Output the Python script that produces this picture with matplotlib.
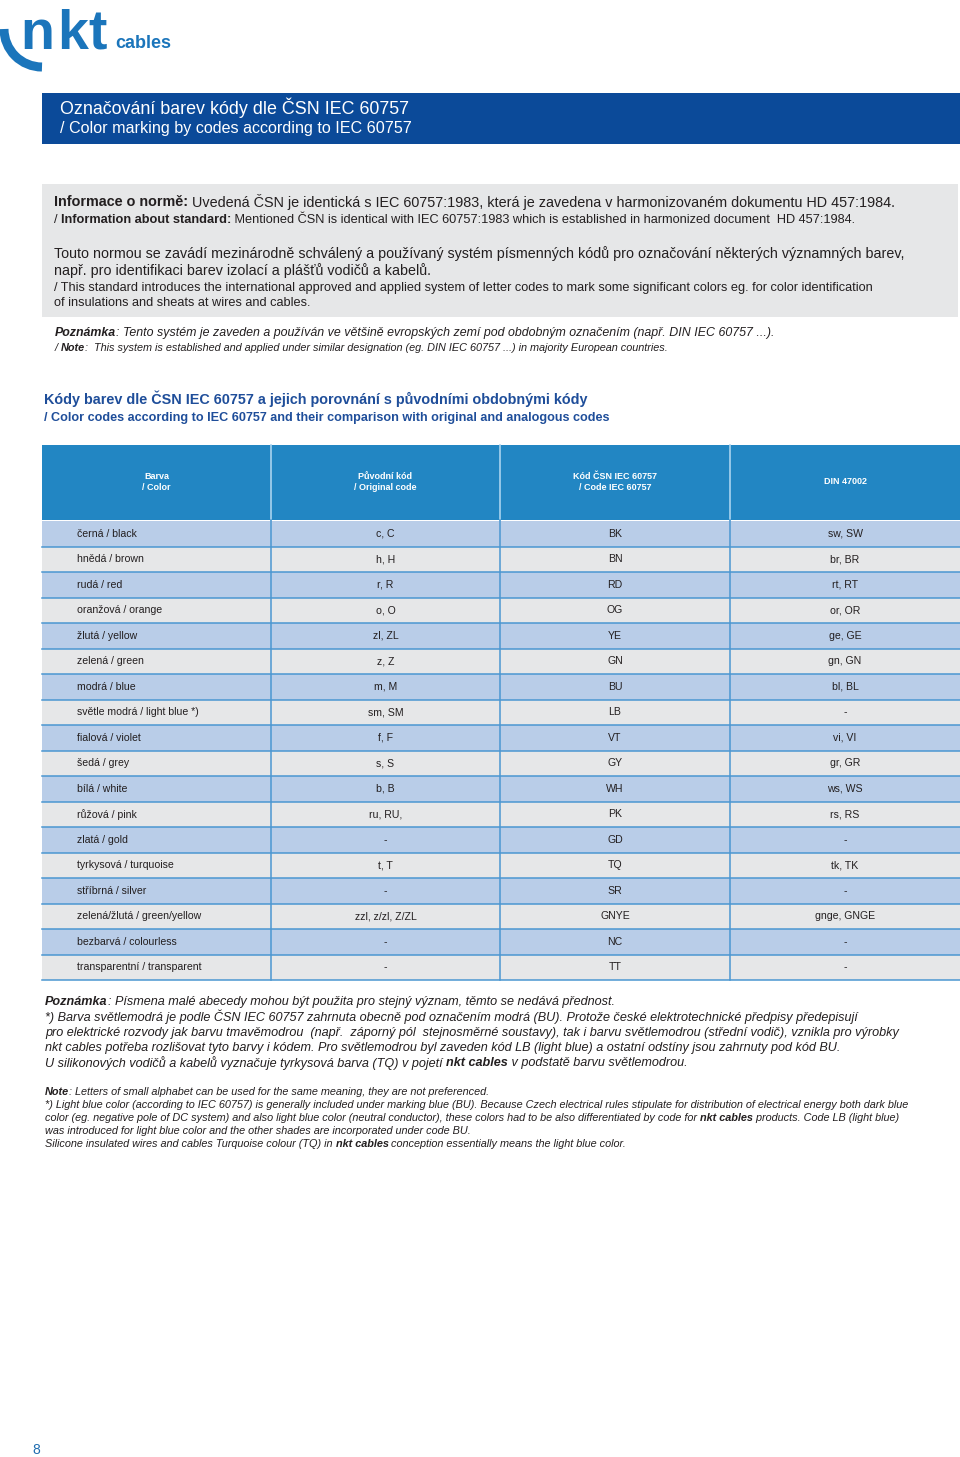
import matplotlib.pyplot as plt
from matplotlib.patches import Rectangle, Arc

# table data
colors = ["černá / black", "hnědá / brown", "rudá / red", "oranžová / orange",
          "žlutá / yellow", "zelená / green", "modrá / blue",
          "světle modrá / light blue *)", "fialová / violet", "šedá / grey",
          "bílá / white", "růžová / pink", "zlatá / gold", "tyrkysová / turquoise",
          "stříbrná / silver", "zelená/žlutá / green/yellow",
          "bezbarvá / colourless", "transparentní / transparent"]
original_code = ["c, C", "h, H", "r, R", "o, O", "zl, ZL", "z, Z", "m, M", "sm, SM",
                 "f, F", "s, S", "b, B", "ru, RU,", "-", "t, T", "-",
                 "zzl, z/zl, Z/ZL", "-", "-"]
iec_code = ["BK", "BN", "RD", "OG", "YE", "GN", "BU", "LB", "VT", "GY", "WH",
            "PK", "GD", "TQ", "SR", "GNYE", "NC", "TT"]
din_code = ["sw, SW", "br, BR", "rt, RT", "or, OR", "ge, GE", "gn, GN", "bl, BL",
            "-", "vi, VI", "gr, GR", "ws, WS", "rs, RS", "-", "tk, TK", "-",
            "gnge, GNGE", "-", "-"]
headers = ["Barva\n/ Color", "Původní kód\n/ Original code",
           "Kód ČSN IEC 60757\n/ Code IEC 60757", "DIN 47002"]

plt.rcParams['font.family'] = ['Liberation Sans', 'DejaVu Sans']

W, H = 960, 1457
fig = plt.figure(figsize=(W / 100, H / 100), dpi=100)
ax = fig.add_axes([0, 0, 1, 1])
ax.set_xlim(0, W)
ax.set_ylim(H, 0)
ax.axis('off')
r = fig.canvas.get_renderer()

TXT = '#231f20'
LOGO = '#1b75bb'


def seg_width(s, **kw):
    t1 = ax.text(0, 0, s + '|', **kw)
    t2 = ax.text(0, 0, '|', **kw)
    w = t1.get_window_extent(renderer=r).width - t2.get_window_extent(renderer=r).width
    t1.remove()
    t2.remove()
    return w


def rich(x, y, parts, size, color=TXT, italic=False):
    # parts: list of (text, bold)
    for s, bold in parts:
        kw = dict(fontsize=size, fontweight='bold' if bold else 'normal',
                  fontstyle='italic' if italic else 'normal', color=color)
        ax.text(x, y, s, va='center', ha='left', **kw)
        x += seg_width(s, **kw)


# logo
ax.add_patch(Arc((42, 29), 76, 76, theta1=90, theta2=180, lw=6.5, color=LOGO))
for ch, lx in [("n", 20), ("k", 57), ("t", 88)]:
    ax.text(lx, 49, ch, fontsize=40, fontweight='bold', color=LOGO, va='baseline')
ax.text(115, 48, "cables", fontsize=13, fontweight='bold', color=LOGO, va='baseline')

# title bar
ax.add_patch(Rectangle((42, 93), W - 42, 51, color='#0b4a99', lw=0))
ax.text(60, 108, "Označování barev kódy dle ČSN IEC 60757", fontsize=12.9,
        color='white', va='center')
ax.text(60, 129, "/ Color marking by codes according to IEC 60757", fontsize=11.6,
        color='white', va='center')

# info box
ax.add_patch(Rectangle((42, 184), 916, 133, color='#e6e7e8', lw=0))
rich(54, 202, [("Informace o normě:", True),
               (" Uvedená ČSN je identická s IEC 60757:1983, která je zavedena v harmonizovaném dokumentu HD 457:1984.", False)], 10.35)
rich(54, 220, [("/ ", False), ("Information about standard:", True),
               (" Mentioned ČSN is identical with IEC 60757:1983 which is established in harmonized document  HD 457:1984.", False)], 9.15)
rich(54, 254, [("Touto normou se zavádí mezinárodně schválený a používaný systém písmenných kódů pro označování některých významných barev,", False)], 10.3)
rich(54, 271, [("např. pro identifikaci barev izolací a plášťů vodičů a kabelů.", False)], 10.3)
rich(54, 288, [("/ This standard introduces the international approved and applied system of letter codes to mark some significant colors eg. for color identification", False)], 9.15)
rich(54, 303, [("of insulations and sheats at wires and cables.", False)], 9.15)

rich(55, 333, [("Poznámka", True), (": Tento systém je zaveden a používán ve většině evropských zemí pod obdobným označením (např. DIN IEC 60757 ...).", False)], 8.95, italic=True)
rich(55, 348, [("/ ", False), ("Note", True), (":  This system is established and applied under similar designation (eg. DIN IEC 60757 ...) in majority European countries.", False)], 7.8, italic=True)

# table heading
ax.text(44, 399, "Kódy barev dle ČSN IEC 60757 a jejich porovnání s původními obdobnými kódy",
        fontsize=10.35, fontweight='bold', color='#1f4e9a', va='center')
ax.text(44, 418, "/ Color codes according to IEC 60757 and their comparison with original and analogous codes",
        fontsize=9.1, fontweight='bold', color='#1f4e9a', va='center')

# table
col_edges = [42, 271, 500, 730, W]
head_top, head_bot = 445, 520
row_h = 25.5
ax.add_patch(Rectangle((42, head_top), W - 42, head_bot - head_top, color='#2286c3', lw=0))
for xe in col_edges[1:-1]:
    ax.plot([xe, xe], [head_top, head_bot], color='#a9d3ef', lw=1.2)
for j, h in enumerate(headers):
    xc = (col_edges[j] + col_edges[j + 1]) / 2
    ax.text(xc, 482, h, fontsize=6.5, fontweight='bold', color='white',
            ha='center', va='center', linespacing=1.25)

for i in range(len(colors)):
    top = head_bot + 1 + i * row_h
    fc = '#b9cde8' if i % 2 == 0 else '#e6e7e8'
    ax.add_patch(Rectangle((42, top), W - 42, row_h, color=fc, lw=0))
    ax.plot([42, W], [top + row_h, top + row_h], color='#4b97d1', lw=1.1)
    yc = top + row_h / 2
    ax.text(77, yc, colors[i], fontsize=7.6, color=TXT, va='center', ha='left')
    for j, vals in enumerate([original_code, iec_code, din_code], start=1):
        xc = (col_edges[j] + col_edges[j + 1]) / 2
        ax.text(xc, yc, vals[i], fontsize=7.6, color=TXT, va='center', ha='center')
rows_bot = head_bot + 1 + len(colors) * row_h
for xe in col_edges[1:-1]:
    ax.plot([xe, xe], [head_bot, rows_bot], color='#4b97d1', lw=1.1)

# notes below table
rich(45, 1002, [("Poznámka", True), (": Písmena malé abecedy mohou být použita pro stejný význam, těmto se nedává přednost.", False)], 9.08, italic=True)
rich(45, 1017, [("*) Barva světlemodrá je podle ČSN IEC 60757 zahrnuta obecně pod označením modrá (BU). Protože české elektrotechnické předpisy předepisují", False)], 9.08, italic=True)
rich(45, 1033, [("pro elektrické rozvody jak barvu tmavěmodrou  (např.  záporný pól  stejnosměrné soustavy), tak i barvu světlemodrou (střední vodič), vznikla pro výrobky", False)], 9.08, italic=True)
rich(45, 1048, [("nkt cables potřeba rozlišovat tyto barvy i kódem. Pro světlemodrou byl zaveden kód LB (light blue) a ostatní odstíny jsou zahrnuty pod kód BU.", False)], 9.08, italic=True)
rich(45, 1063, [("U silikonových vodičů a kabelů vyznačuje tyrkysová barva (TQ) v pojetí ", False), ("nkt cables", True), (" v podstatě barvu světlemodrou.", False)], 9.08, italic=True)

rich(45, 1092, [("Note", True), (": Letters of small alphabet can be used for the same meaning, they are not preferenced.", False)], 7.8, italic=True)
rich(45, 1105, [("*) Light blue color (according to IEC 60757) is generally included under marking blue (BU). Because Czech electrical rules stipulate for distribution of electrical energy both dark blue", False)], 7.8, italic=True)
rich(45, 1118, [("color (eg. negative pole of DC system) and also light blue color (neutral conductor), these colors had to be also differentiated by code for ", False), ("nkt cables", True), (" products. Code LB (light blue)", False)], 7.8, italic=True)
rich(45, 1131, [("was introduced for light blue color and the other shades are incorporated under code BU.", False)], 7.8, italic=True)
rich(45, 1144, [("Silicone insulated wires and cables Turquoise colour (TQ) in ", False), ("nkt cables", True), (" conception essentially means the light blue color.", False)], 7.8, italic=True)

ax.text(36, 1450, "8", fontsize=10, color='#1f6db0', ha='center', va='center')

fig.savefig('out.png', dpi=100)
